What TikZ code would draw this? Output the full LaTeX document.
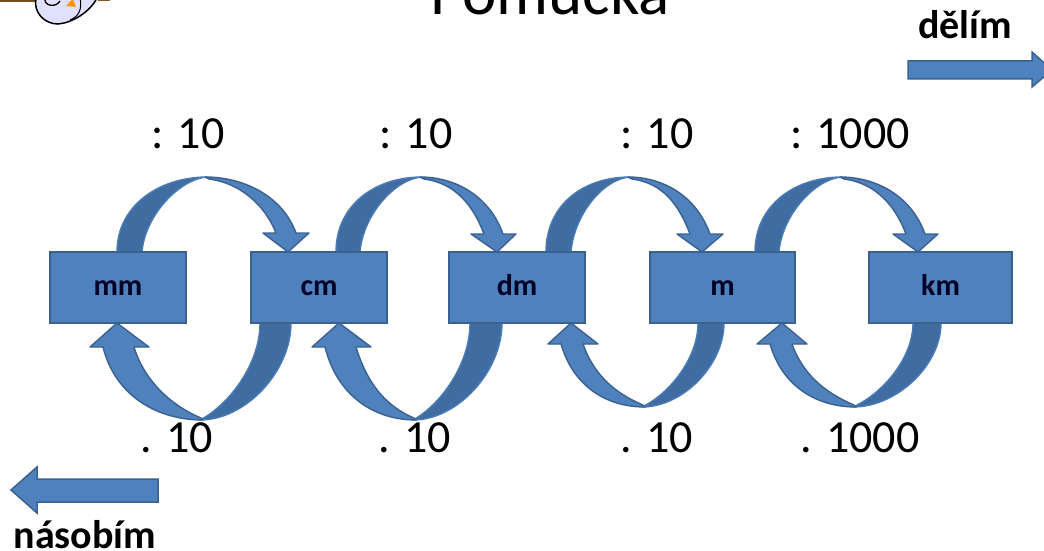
\documentclass[tikz,border=0pt]{standalone}
\usepackage{fontspec}
\setmainfont{Carlito}
\definecolor{boxblue}{HTML}{4F81BD}
\definecolor{darkblue}{HTML}{3F6DA2}
\definecolor{edgeblue}{HTML}{3A618F}
\newcommand{\upperarc}[7]{% outL inL top tip wL wR wy
  \draw[backarc] (#1,252) .. controls (#1,205) and ({#3-47},177) .. (#3,177)
     .. controls ({#3-27},179) and ({#2+3},215) .. (#2,252) -- cycle;
  \draw[frontarc] ({#3-2},177) .. controls ({#3+0.4*(#6-13-#3)},177) and ({#6-27},195) .. ({#6-13},#7)
     -- (#6,#7) -- (#4,252) -- (#5,#7) -- ({#5+13},#7)
     .. controls ({#5+2},205) and ({#3+33},183) .. ({#3+2},179) -- cycle;
}
\newcommand{\lowerarc}[8]{% inR outR bot yb tip wL wR wy
  \draw[backarc] (#2,323) .. controls (#2,{323+.5*(#4-323)}) and ({#3+.5*(#2-#3)},#4) .. (#3,#4)
     .. controls ({#3+.47*(#1-#3)},{#4-.15*(#4-323)}) and (#1,{323+.43*(#4-323)}) .. (#1,323) -- cycle;
  \draw[frontarc] ({#3+3},#4) .. controls ({#3-.45*(#3-#6-13)},#4) and ({#6+25},{#8+.66*(#4-#8)}) .. ({#6+13},#8)
     -- (#6,#8) -- (#5,323) -- (#7,#8) -- ({#7-15},#8)
     .. controls ({#7-5},{#8+.45*(#4-#8)}) and ({#3-30},{#4-15}) .. ({#3+1},{#4-2}) -- cycle;
}
\tikzset{
  x=1pt,y=-1pt,
  backarc/.style={fill=darkblue,draw=boxblue!70!darkblue,line width=1.4pt,line join=round},
  frontarc/.style={fill=boxblue,draw=edgeblue,line width=1.4pt,line join=round},
  unitbox/.style={rectangle,fill=boxblue,draw=edgeblue,line width=1.6pt,minimum height=71pt,inner sep=0pt,text height=20pt,text depth=5pt,font=\fontsize{30}{32}\selectfont\bfseries,text=black!85!blue},
  opertext/.style={anchor=base,inner sep=0pt,font=\fontsize{46}{54}\selectfont,text=black},
  wordtext/.style={anchor=base,inner sep=0pt,font=\fontsize{40}{46}\selectfont\bfseries,text=black},
  flatarrow/.style={fill=boxblue,draw=edgeblue,line width=1.5pt,line join=miter}
}
\begin{document}
\begin{tikzpicture}
\useasboundingbox (0,0) rectangle (1044,551);
\clip (0,0) rectangle (1044,551);
% mascot fragment
\fill[brown!60!black] (0,-1) rectangle (35,2);
\fill[brown!70!black] (98,-1) rectangle (110,1);
\draw[fill=blue!12,line width=1.5pt] (36,-2) .. controls (33,12) and (44,24) .. (58,24) .. controls (72,23) and (90,12) .. (97,-2) -- cycle;
\draw[line width=1pt] (70,20) .. controls (80,16) and (82,8) .. (80,-2);
\draw[line width=1.3pt] (45,-1) .. controls (44,6) and (56,8) .. (60,1);
\fill[orange!85!yellow] (66,6) -- (73,-1) -- (76,7) -- cycle;
% curved arrows
\upperarc{117}{142}{207}{288}{263}{309}{233}
\upperarc{336}{360}{422}{497}{471}{516}{234}
\upperarc{546}{571}{630}{702}{677}{723}{234}
\upperarc{755}{779}{842}{918}{893}{938}{234}
\lowerarc{260}{291}{200}{420}{117}{90}{149}{347}
\lowerarc{470}{502}{413}{420}{339}{312}{371}{347}
\lowerarc{698}{724}{642}{407}{571}{548}{598}{344}
\lowerarc{913}{941}{853}{407}{782}{757}{807}{344}
% unit boxes
\node[unitbox,minimum width=136pt] (mm) at (118,287.5) {mm};
\node[unitbox,minimum width=136pt] (cm) at (319,287.5) {cm};
\node[unitbox,minimum width=136pt] (dm) at (517,287.5) {dm};
\node[unitbox,minimum width=145pt] (m) at (722.5,287.5) {m};
\node[unitbox,minimum width=143pt] (km) at (940.5,287.5) {km};
% labels
\node[anchor=base,inner sep=0pt,font=\fontsize{65}{70}\selectfont] (title) at (550,15) {Pomůcka};
\node[opertext] (d1) at (188,148) {: 10};
\node[opertext] (d2) at (416,148) {: 10};
\node[opertext] (d3) at (657,148) {: 10};
\node[opertext] (d4) at (850,148) {: 1000};
\node[opertext] (n1) at (177,452) {. 10};
\node[opertext] (n2) at (415,452) {. 10};
\node[opertext] (n3) at (657,452) {. 10};
\node[opertext] (n4) at (860,452) {. 1000};
\node[wordtext] (delim) at (965,39) {dělím};
\node[wordtext] (nasobim) at (85,548) {násobím};
% direction arrows
\draw[flatarrow] (908,61) -- (1032,61) -- (1032,52) -- (1052,70) -- (1032,87) -- (1032,79) -- (908,79) -- cycle;
\draw[flatarrow] (158,479) -- (37,479) -- (37,467) -- (11,490) -- (37,513) -- (37,502) -- (158,502) -- cycle;
\end{tikzpicture}
\end{document}
